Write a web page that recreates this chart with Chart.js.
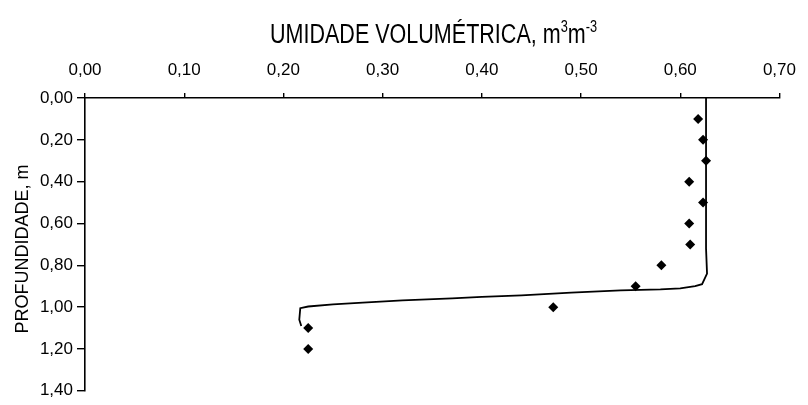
<!DOCTYPE html>
<html>
<head>
<meta charset="utf-8">
<script src="https://cdn.jsdelivr.net/npm/chart.js@4/dist/chart.umd.min.js"></script>
<style>
  html, body { margin: 0; padding: 0; background: #fff; }
  #wrap { width: 808px; height: 405px; }
</style>
</head>
<body>
<div id="wrap"><canvas id="chart"></canvas></div>
<script>
// valores observados (profundidade x umidade)
const depthObs = [0.10, 0.20, 0.30, 0.40, 0.50, 0.60, 0.70, 0.80, 0.90, 1.00, 1.10, 1.20];
const thetaObs = [0.618, 0.623, 0.626, 0.609, 0.623, 0.609, 0.610, 0.581, 0.555, 0.472, 0.225, 0.225];

// curva ajustada
const depthFit = [0.00, 0.72, 0.84, 0.89, 0.90, 0.91, 0.915, 0.92, 0.931, 0.944, 0.951, 0.958, 0.968, 0.978, 0.987, 0.997, 1.005, 1.06, 1.09];
const thetaFit = [0.626, 0.626, 0.627, 0.622, 0.615, 0.600, 0.580, 0.540, 0.490, 0.440, 0.400, 0.370, 0.320, 0.280, 0.250, 0.225, 0.217, 0.216, 0.218];

const xTitle = 'UMIDADE VOLUMÉTRICA, m';
const yTitle = 'PROFUNDIDADE, m';

const fmt = v => Number(v).toFixed(2).replace('.', ',');

// desenha os títulos dos eixos
const titlesPlugin = {
  id: 'titles',
  afterDraw(chart) {
    const ctx = chart.ctx;
    ctx.save();
    ctx.fillStyle = '#000';

    // titulo de cima, com expoentes
    const big = '27px "Liberation Sans", Arial, sans-serif';
    const small = '16px "Liberation Sans", Arial, sans-serif';
    const parts = [
      { t: xTitle, f: big, dy: 0 },
      { t: '3', f: small, dy: -11 },
      { t: 'm', f: big, dy: 0 },
      { t: '-3', f: small, dy: -11 }
    ];
    let total = 0;
    parts.forEach(p => { ctx.font = p.f; p.w = ctx.measureText(p.t).width; total += p.w; });
    const sx = 327 / total;
    ctx.translate(270, 43);
    ctx.scale(sx, 1);
    let x = 0;
    ctx.textBaseline = 'alphabetic';
    ctx.textAlign = 'left';
    parts.forEach(p => {
      ctx.font = p.f;
      ctx.fillText(p.t, x, p.dy);
      x += p.w;
    });
    ctx.restore();

    // titulo lateral
    ctx.save();
    ctx.fillStyle = '#000';
    ctx.font = '18px "Liberation Sans", Arial, sans-serif';
    ctx.translate(28, 249);
    ctx.rotate(-Math.PI / 2);
    ctx.textAlign = 'center';
    ctx.textBaseline = 'alphabetic';
    ctx.fillText(yTitle, 0, 0);
    ctx.restore();
  }
};

const tickFont = { family: '"Liberation Sans", Arial, sans-serif', size: 17 };

new Chart(document.getElementById('chart'), {
  type: 'scatter',
  data: {
    datasets: [
      {
        label: 'Observado',
        data: thetaObs.map((v, i) => ({ x: v, y: depthObs[i] })),
        pointStyle: 'rectRot',
        pointRadius: 5,
        backgroundColor: '#000',
        borderColor: '#000',
        borderWidth: 0
      },
      {
        label: 'Ajustado',
        data: thetaFit.map((v, i) => ({ x: v, y: depthFit[i] })),
        showLine: true,
        pointRadius: 0,
        borderColor: '#000',
        borderWidth: 1.8,
        tension: 0
      }
    ]
  },
  options: {
    responsive: true,
    maintainAspectRatio: false,
    animation: false,
    layout: { padding: { left: 0, top: 0, right: 23, bottom: 10 } },
    plugins: {
      legend: { display: false },
      tooltip: { enabled: false }
    },
    scales: {
      x: {
        type: 'linear',
        position: 'top',
        min: 0,
        max: 0.7,
        afterFit: s => { s.height = 98; },
        border: { display: true, color: '#000', width: 1.6 },
        grid: { drawOnChartArea: false, drawTicks: true, tickLength: 5, color: '#000', lineWidth: 1.4 },
        ticks: {
          stepSize: 0.1,
          color: '#000',
          font: tickFont,
          padding: 12,
          maxRotation: 0,
          callback: v => fmt(v)
        }
      },
      y: {
        type: 'linear',
        position: 'left',
        reverse: true,
        min: 0,
        max: 1.4,
        afterFit: s => { s.width = 85; },
        border: { display: true, color: '#000', width: 1.6 },
        grid: { drawOnChartArea: false, drawTicks: true, tickLength: 8, color: '#000', lineWidth: 1.4 },
        ticks: {
          stepSize: 0.2,
          color: '#000',
          font: tickFont,
          padding: 4,
          callback: v => fmt(v)
        }
      }
    }
  },
  plugins: [titlesPlugin]
});
</script>
</body>
</html>
